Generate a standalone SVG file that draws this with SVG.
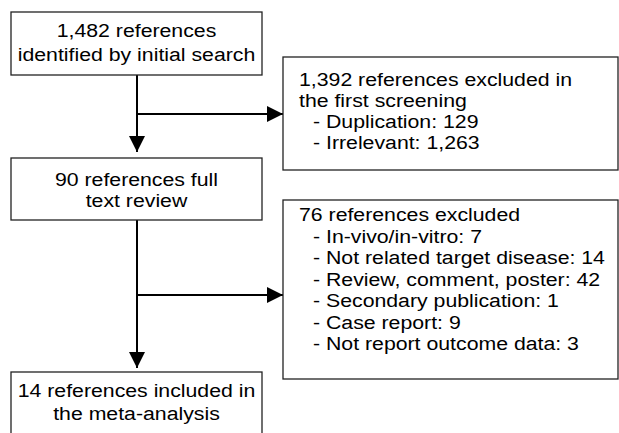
<svg xmlns="http://www.w3.org/2000/svg" width="619" height="433" viewBox="0 0 619 433">
<style>
.box{fill:#fff;stroke:#222;stroke-width:1.3}
.t{font-family:"Liberation Sans",Arial,sans-serif;font-size:19px;fill:#000}
.c{text-anchor:middle}
.edge{fill:none;stroke:#000;stroke-width:2}
</style>
<defs>
<marker id="ah" markerUnits="userSpaceOnUse" markerWidth="16" markerHeight="16" viewBox="0 0 14 14" refX="14" refY="7" orient="auto">
<path d="M0,0 L14,7 L0,14 Z" fill="#000"/>
</marker>
</defs>
<rect width="619" height="433" fill="#fff"/>
<g id="connectors">
<path class="edge" d="M137,75 V152" marker-end="url(#ah)"/>
<path class="edge" d="M137,114 H283" marker-end="url(#ah)"/>
<path class="edge" d="M137,220 V368" marker-end="url(#ah)"/>
<path class="edge" d="M137,295 H283" marker-end="url(#ah)"/>
</g>
<g id="n1">
<rect class="box" x="11" y="12" width="251" height="63"/>
<text class="t c" transform="translate(136.5,37) scale(1.12,1)">1,482 references</text>
<text class="t c" transform="translate(136.5,61) scale(1.12,1)">identified by initial search</text>
</g>
<g id="n2">
<rect class="box" x="283" y="57" width="335" height="113"/>
<text class="t" transform="translate(299,86) scale(1.12,1)">1,392 references excluded in</text>
<text class="t" transform="translate(299,107) scale(1.12,1)">the first screening</text>
<text class="t" transform="translate(313,128) scale(1.12,1)">- Duplication: 129</text>
<text class="t" transform="translate(313,149) scale(1.12,1)">- Irrelevant: 1,263</text>
</g>
<g id="n3">
<rect class="box" x="11" y="158" width="251" height="62"/>
<text class="t c" transform="translate(136.5,186) scale(1.12,1)">90 references full</text>
<text class="t c" transform="translate(136.5,207) scale(1.12,1)">text review</text>
</g>
<g id="n4">
<rect class="box" x="283" y="200" width="335" height="179"/>
<text class="t" transform="translate(299,221) scale(1.12,1)">76 references excluded</text>
<text class="t" transform="translate(313,242.5) scale(1.12,1)">- In-vivo/in-vitro: 7</text>
<text class="t" transform="translate(313,264) scale(1.12,1)">- Not related target disease: 14</text>
<text class="t" transform="translate(313,285.5) scale(1.12,1)">- Review, comment, poster: 42</text>
<text class="t" transform="translate(313,307) scale(1.12,1)">- Secondary publication: 1</text>
<text class="t" transform="translate(313,328.5) scale(1.12,1)">- Case report: 9</text>
<text class="t" transform="translate(313,350) scale(1.12,1)">- Not report outcome data: 3</text>
</g>
<g id="n5">
<rect class="box" x="11" y="372" width="251" height="70"/>
<text class="t c" transform="translate(136.5,397) scale(1.12,1)">14 references included in</text>
<text class="t c" transform="translate(136.5,420) scale(1.12,1)">the meta-analysis</text>
</g>
</svg>
